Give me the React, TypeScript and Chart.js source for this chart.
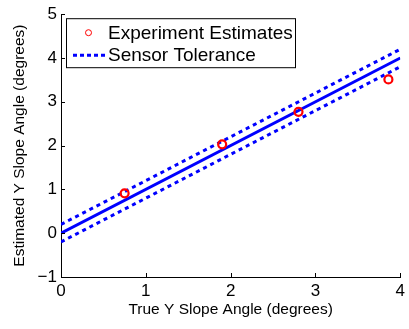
import React, { useEffect, useRef } from 'react';
import { Chart, registerables } from 'chart.js';

Chart.register(...registerables);

// ---- data ----
const trueAngles = [0.75, 1.9, 2.8, 3.86];
const estimatedAngles = [0.91, 2.03, 2.77, 3.51];
const idealX = [0, 4];
const idealY = [0, 4];
const upperY = [0.2, 4.2];
const lowerY = [-0.2, 3.8];
const xTicks = [0, 1, 2, 3, 4];
const yTicks = [-1, 0, 1, 2, 3, 4, 5];
const seriesLabels = ['Experiment Estimates', 'Sensor Tolerance'];
const xTitle = 'True Y Slope Angle (degrees)';
const yTitle = 'Estimated Y Slope Angle (degrees)';

const FONT = '"Liberation Sans", Arial, Helvetica, sans-serif';
const BLUE = '#0000ff';
const RED = '#ff0000';

const inwardTicks = {
  id: 'inwardTicks',
  afterDatasetsDraw(chart: any) {
    const { ctx, chartArea, scales } = chart;
    ctx.save();
    ctx.strokeStyle = '#000';
    ctx.lineWidth = 1;
    ctx.beginPath();
    xTicks.forEach((v) => {
      const px = Math.round(scales.x.getPixelForValue(v)) + 0.5;
      ctx.moveTo(px, chartArea.bottom);
      ctx.lineTo(px, chartArea.bottom - 4);
    });
    yTicks.forEach((v) => {
      const py = Math.round(scales.y.getPixelForValue(v)) + 0.5;
      ctx.moveTo(chartArea.left, py);
      ctx.lineTo(chartArea.left + 4, py);
    });
    ctx.stroke();
    ctx.restore();
  },
};

const boxLegend = {
  id: 'boxLegend',
  afterDraw(chart: any) {
    const { ctx, chartArea } = chart;
    const x0 = chartArea.left + 5.5;
    const y0 = chartArea.top + 4.5;
    const w = 229;
    const h = 49;
    ctx.save();
    ctx.fillStyle = '#fff';
    ctx.fillRect(x0, y0, w, h);
    ctx.strokeStyle = '#000';
    ctx.lineWidth = 1;
    ctx.strokeRect(x0, y0, w, h);
    // entry 1: circle
    const r1 = y0 + 14;
    ctx.beginPath();
    ctx.strokeStyle = RED;
    ctx.lineWidth = 1;
    ctx.arc(x0 + 22, r1, 3, 0, Math.PI * 2);
    ctx.stroke();
    // entry 2: dashed line
    const r2 = y0 + 36.5;
    ctx.beginPath();
    ctx.strokeStyle = BLUE;
    ctx.lineWidth = 3;
    ctx.setLineDash([4, 3]);
    ctx.moveTo(x0 + 6.5, r2);
    ctx.lineTo(x0 + 38.5, r2);
    ctx.stroke();
    ctx.setLineDash([]);
    ctx.fillStyle = '#000';
    ctx.font = `19px ${FONT}`;
    ctx.textBaseline = 'middle';
    ctx.textAlign = 'left';
    ctx.fillText(seriesLabels[0], x0 + 41.5, r1 + 1);
    ctx.fillText(seriesLabels[1], x0 + 41.5, r2 + 1);
    ctx.restore();
  },
};

export default function App() {
  const canvasRef = useRef<HTMLCanvasElement | null>(null);

  useEffect(() => {
    if (!canvasRef.current) return;
    const pts = trueAngles.map((x, i) => ({ x, y: estimatedAngles[i] }));
    const ideal = idealX.map((x, i) => ({ x, y: idealY[i] }));
    const upper = idealX.map((x, i) => ({ x, y: upperY[i] }));
    const lower = idealX.map((x, i) => ({ x, y: lowerY[i] }));

    const chart = new Chart(canvasRef.current, {
      type: 'scatter',
      data: {
        datasets: [
          {
            label: seriesLabels[0],
            data: pts,
            showLine: false,
            pointStyle: 'circle',
            pointRadius: 4,
            pointBorderWidth: 2.2,
            pointBorderColor: RED,
            pointBackgroundColor: 'rgba(0,0,0,0)',
          },
          {
            label: seriesLabels[1],
            data: upper,
            showLine: true,
            borderColor: BLUE,
            borderWidth: 3,
            borderDash: [4, 4],
            pointRadius: 0,
          },
          {
            label: 'Ideal',
            data: ideal,
            showLine: true,
            borderColor: BLUE,
            borderWidth: 3,
            pointRadius: 0,
          },
          {
            label: 'Lower',
            data: lower,
            showLine: true,
            borderColor: BLUE,
            borderWidth: 3,
            borderDash: [4, 4],
            pointRadius: 0,
          },
        ],
      },
      options: {
        animation: false,
        responsive: true,
        maintainAspectRatio: false,
        layout: { padding: { top: 12, right: 5, left: 0, bottom: 0 } },
        plugins: {
          legend: { display: false },
          tooltip: { enabled: false },
        },
        scales: {
          x: {
            type: 'linear',
            min: 0,
            max: 4,
            afterBuildTicks: (s: any) => {
              s.ticks = xTicks.map((v) => ({ value: v }));
            },
            afterFit: (s: any) => {
              s.height = 52;
            },
            grid: { display: true, drawOnChartArea: false, drawTicks: false },
            border: { display: true, color: '#000', width: 1 },
            ticks: {
              color: '#000',
              font: { family: FONT, size: 17 },
              padding: 4,
              maxRotation: 0,
              autoSkip: false,
              callback: (v: any) => String(v).replace('-', '\u2212'),
            },
            title: {
              display: true,
              text: xTitle,
              color: '#000',
              font: { family: FONT, size: 15.5 },
              padding: { top: 0, bottom: 10 },
            },
          },
          y: {
            type: 'linear',
            min: -1,
            max: 5,
            afterBuildTicks: (s: any) => {
              s.ticks = yTicks.map((v) => ({ value: v }));
            },
            afterFit: (s: any) => {
              s.width = 61;
            },
            grid: { display: true, drawOnChartArea: false, drawTicks: false },
            border: { display: true, color: '#000', width: 1 },
            ticks: {
              color: '#000',
              font: { family: FONT, size: 17 },
              padding: 4,
              autoSkip: false,
              callback: (v: any) => String(v).replace('-', '\u2212'),
            },
            title: {
              display: true,
              text: yTitle,
              color: '#000',
              font: { family: FONT, size: 15.5 },
              padding: { top: 10, bottom: 0 },
            },
          },
        },
      },
      plugins: [inwardTicks, boxLegend],
    });
    return () => chart.destroy();
  }, []);

  return (
    <div style={{ position: 'absolute', left: 0, top: 0, width: 409, height: 329, background: '#fff' }}>
      <canvas ref={canvasRef} />
    </div>
  );
}
